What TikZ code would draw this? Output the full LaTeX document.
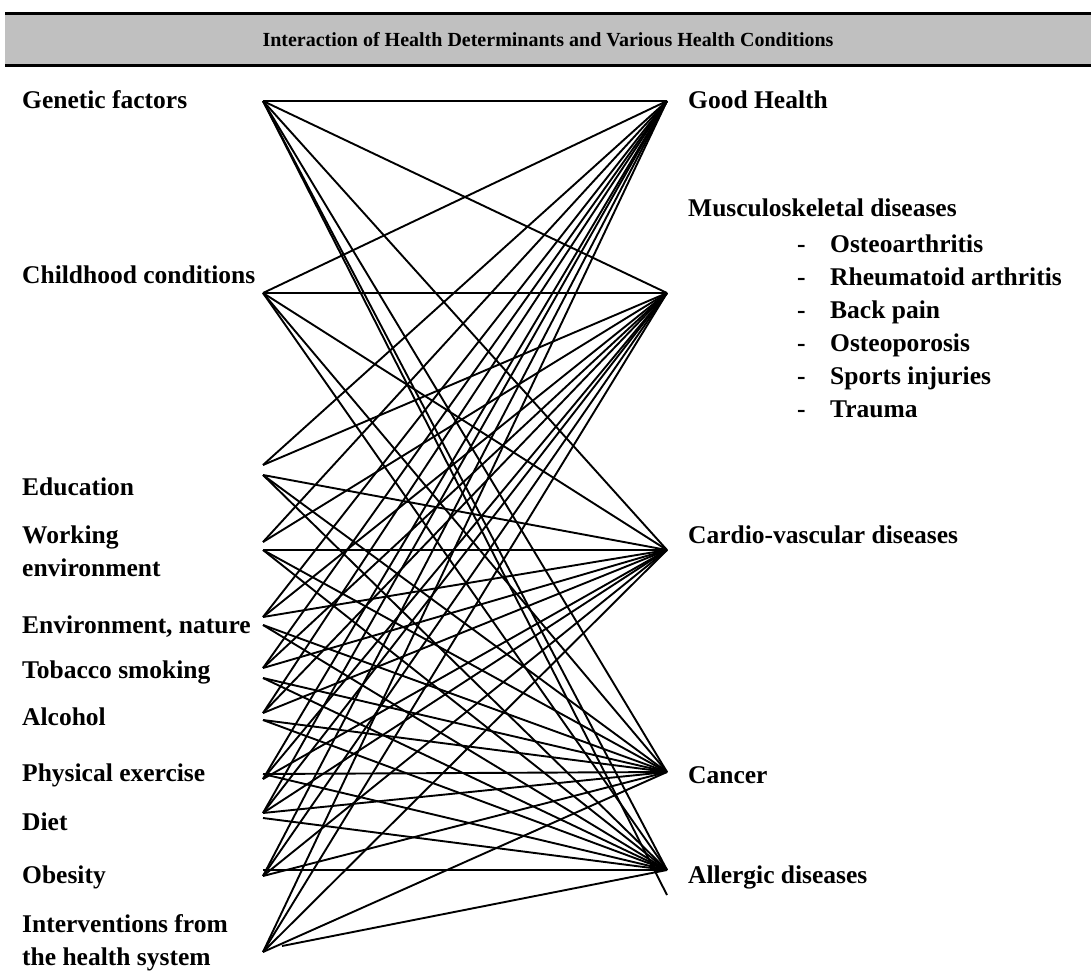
\documentclass[tikz,border=0pt]{standalone}
\usepackage{fontspec}
\setmainfont{Liberation Serif}
\usetikzlibrary{positioning}
\definecolor{bannergray}{RGB}{192,192,192}
\tikzset{
  factor/.style={
    anchor=west,
    align=left,
    inner sep=0pt,
    font=\bfseries\fontsize{25.5}{33}\selectfont
    },
  condition/.style={
    anchor=west,
    align=left,
    inner sep=0pt,
    font=\bfseries\fontsize{25.5}{33}\selectfont
    },
  entry/.style={
    anchor=base west,
    inner sep=0pt,
    font=\bfseries\fontsize{25.5}{33}\selectfont
    },
  title/.style={
    inner sep=0pt,
    font=\bfseries\fontsize{20}{24}\selectfont
    },
  rule/.style={line width=3pt},
  link/.style={line width=1.9pt},
}
\begin{document}
\begin{tikzpicture}[x=1pt,y=-1pt]
\useasboundingbox (0,0) rectangle (1091,976);

% banner
\fill[bannergray] (5,14) rectangle (1091,66);
\draw[rule] (5,14) -- (1091,14);
\draw[rule] (5,66) -- (1091,66);
\node (head) [title] at (548,40) {Interaction of Health Determinants and Various Health Conditions};

% determinants
\node (genetic) [factor] at (22,100) {Genetic factors};
\node (childhood) [factor] at (22,275) {Childhood conditions};
\node (education) [factor] at (22,487) {Education};
\node (working) [factor] at (22,551) {Working\\environment};
\node (nature) [factor] at (22,627) {Environment, nature};
\node (tobacco) [factor] at (22,672) {Tobacco smoking};
\node (alcohol) [factor] at (22,717) {Alcohol};
\node (exercise) [factor] at (22,775) {Physical exercise};
\node (diet) [factor] at (22,822) {Diet};
\node (obesity) [factor] at (22,877) {Obesity};
\node (interventions) [factor] at (22,943) {Interventions from\\the health system};

% conditions
\node (goodhealth) [condition] at (688,100) {Good Health};
\node (musculo) [condition] at (688,208) {Musculoskeletal diseases};
\foreach \y/\txt [count=\i] in {252/Osteoarthritis, 285/Rheumatoid arthritis, 318/Back pain,
    351/Osteoporosis, 384/Sports injuries, 417/Trauma} {
  \node (dash\i) [entry] at (797,\y) {-};
  \node (item\i) [entry] at (830,\y) {\txt};
}
\node (cardiovascular) [condition] at (688,535) {Cardio-vascular diseases};
\node (cancer) [condition] at (688,775) {Cancer};
\node (allergic) [condition] at (688,877) {Allergic diseases};

% line ends
\coordinate (gen) at (263,101);
\coordinate (child) at (263,293);
\coordinate (eduU) at (263,465);
\coordinate (eduD) at (263,475);
\coordinate (workU) at (263,542);
\coordinate (workD) at (263,550);
\coordinate (envU) at (263,617);
\coordinate (envD) at (263,625);
\coordinate (tobU) at (263,668);
\coordinate (tobD) at (263,678);
\coordinate (alcU) at (263,713);
\coordinate (alcD) at (263,720);
\coordinate (physU) at (263,779);
\coordinate (physD) at (263,774);
\coordinate (dietU) at (263,813);
\coordinate (dietD) at (263,818);
\coordinate (obesU) at (263,876);
\coordinate (obesD) at (263,870);
\coordinate (intU) at (263,952);
\coordinate (intS) at (282,946);
\coordinate (good) at (667,101);
\coordinate (musc) at (667,293);
\coordinate (cardio) at (667,550);
\coordinate (canc) at (667,772);
\coordinate (alle) at (667,870);
\coordinate (alleB) at (667,895);

\foreach \a/\b in {gen/good, gen/musc, gen/cardio, gen/canc, gen/alle, gen/alleB,
    child/good, child/musc, child/cardio, child/canc, child/alle,
    eduU/good, eduU/musc, eduD/cardio, eduD/canc, eduD/alle,
    workU/good, workU/musc, workD/cardio, workD/canc, workD/alle,
    envU/good, envU/musc, envU/cardio, envD/canc, envD/alle,
    tobU/good, tobU/musc, tobU/cardio, tobD/canc, tobD/alle,
    alcU/good, alcU/musc, alcU/cardio, alcD/canc, alcD/alle,
    physU/good, physU/musc, physU/cardio, physD/canc, physD/alle,
    dietU/good, dietU/musc, dietU/cardio, dietU/canc, dietD/alle,
    obesU/good, obesU/musc, obesU/cardio, obesU/canc, obesD/alle,
    intU/good, intU/musc, intU/cardio, intU/canc, intS/alle}
  \draw[link] (\a) -- (\b);
\end{tikzpicture}
\end{document}
